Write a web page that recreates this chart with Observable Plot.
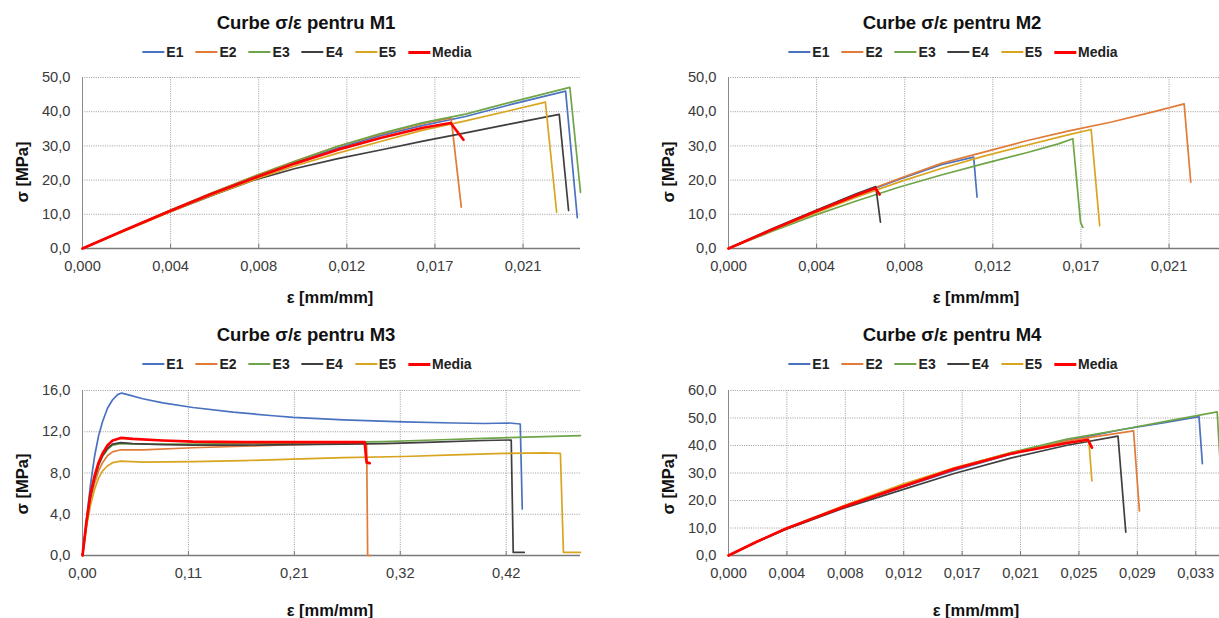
<!DOCTYPE html>
<html><head><meta charset="utf-8">
<script src="https://cdn.jsdelivr.net/npm/d3@7"></script>
<script src="https://cdn.jsdelivr.net/npm/@observablehq/plot@0.6"></script>
<style>
html,body{margin:0;padding:0;background:#fff;}
body{position:relative;width:1219px;height:618px;overflow:hidden;font-family:"Liberation Sans",Arial,sans-serif;}
.panel{position:absolute;width:600px;}
.panel svg{position:absolute;left:0;top:0;max-width:none !important;}
.ttl{position:absolute;transform:translate(-50%,-50%);font-weight:bold;font-size:18.5px;color:#111;white-space:nowrap;}
.leg{position:absolute;transform:translate(-50%,-50%);display:flex;align-items:center;white-space:nowrap;font-weight:bold;font-size:14px;color:#222;}
.leg .it{display:flex;align-items:center;margin-right:12px;}
.leg .it:last-child{margin-right:0;}
.leg .sw{display:inline-block;width:22px;margin-right:2px;}
.xl{position:absolute;transform:translate(-50%,-50%);font-weight:bold;font-size:16.5px;color:#111;white-space:nowrap;}
.yl{position:absolute;transform:translate(-50%,-50%) rotate(-90deg);font-weight:bold;font-size:16.5px;color:#111;white-space:nowrap;}
</style></head>
<body>
<script>
// ---------- series & colours ----------
const SERIES = ["E1","E2","E3","E4","E5","Media"];
const COLORS = ["#4A72C0","#E07B39","#6FA548","#3F3F3F","#D9A521","#FF0000"];
const TITLES = ["Curbe σ/ε pentru M1","Curbe σ/ε pentru M2","Curbe σ/ε pentru M3","Curbe σ/ε pentru M4"];
const X_LABEL = "ε [mm/mm]";
const Y_LABEL = "σ [MPa]";

// ---------- tick values & labels ----------
const xTicksA = [0, 0.00414, 0.00828, 0.01242, 0.01656, 0.0207];
const xLabelsA = ["0,000","0,004","0,008","0,012","0,017","0,021"];
const xTicksM3 = [0, 0.1055, 0.211, 0.3165, 0.422];
const xLabelsM3 = ["0,00","0,11","0,21","0,32","0,42"];
const xTicksM4 = [0, 0.00414, 0.00828, 0.01242, 0.01656, 0.0207, 0.02484, 0.02898, 0.03312];
const xLabelsM4 = ["0,000","0,004","0,008","0,012","0,017","0,021","0,025","0,029","0,033"];
const yTicks50 = [0, 10, 20, 30, 40, 50];
const yLabels50 = ["0,0","10,0","20,0","30,0","40,0","50,0"];
const yTicks16 = [0, 4, 8, 12, 16];
const yLabels16 = ["0,0","4,0","8,0","12,0","16,0"];
const yTicks60 = [0, 10, 20, 30, 40, 50, 60];
const yLabels60 = ["0,0","10,0","20,0","30,0","40,0","50,0","60,0"];

// ---------- M1 data [strain, stress] ----------
const M1_E1 = [[0,0],[0.002,5.4],[0.004,10.7],[0.006,15.9],[0.008,20.7],[0.010,25.2],[0.012,29.4],[0.014,33.0],[0.016,36.0],[0.018,38.6],[0.020,41.9],[0.0227,46.0],[0.02325,9.0]];
const M1_E2 = [[0,0],[0.002,5.5],[0.004,10.9],[0.006,16.1],[0.008,21.0],[0.010,25.6],[0.012,29.9],[0.014,33.4],[0.016,36.6],[0.01732,38.2],[0.0178,12.1]];
const M1_E3 = [[0,0],[0.002,5.4],[0.004,10.8],[0.006,16.0],[0.008,20.9],[0.010,25.5],[0.012,29.9],[0.014,33.6],[0.016,36.8],[0.018,39.3],[0.020,42.6],[0.0229,47.1],[0.0234,16.4]];
const M1_E4 = [[0,0],[0.002,5.3],[0.004,10.5],[0.006,15.3],[0.008,19.9],[0.010,23.4],[0.012,26.3],[0.014,28.8],[0.016,31.4],[0.018,33.8],[0.020,36.3],[0.0224,39.2],[0.02284,11.1]];
const M1_E5 = [[0,0],[0.002,5.2],[0.004,10.4],[0.006,15.4],[0.008,20.0],[0.010,24.2],[0.012,27.9],[0.014,31.3],[0.016,34.6],[0.018,37.3],[0.020,40.2],[0.02175,42.8],[0.02228,10.6]];
const M1_Media = [[0,0],[0.002,5.4],[0.004,10.7],[0.006,15.8],[0.008,20.5],[0.010,24.9],[0.012,28.9],[0.014,32.3],[0.016,35.3],[0.0173,36.7],[0.0179,31.8]];

// ---------- M2 data ----------
const M2_E1 = [[0,0],[0.002,5.4],[0.004,10.5],[0.006,15.5],[0.008,20.2],[0.010,24.5],[0.01152,26.7],[0.01168,15.0]];
const M2_E2 = [[0,0],[0.002,5.4],[0.004,10.6],[0.006,15.7],[0.008,20.4],[0.010,24.9],[0.012,28.2],[0.014,31.5],[0.016,34.4],[0.018,37.0],[0.020,40.0],[0.02141,42.3],[0.02172,19.4]];
const M2_E3 = [[0,0],[0.002,4.9],[0.004,9.6],[0.006,13.9],[0.008,17.9],[0.010,21.5],[0.012,24.8],[0.014,28.0],[0.0155,30.6],[0.01618,32.1],[0.01654,7.7],[0.01665,6.2]];
const M2_E4 = [[0,0],[0.002,5.6],[0.004,10.9],[0.006,16.0],[0.00692,18.1],[0.00714,7.7]];
const M2_E5 = [[0,0],[0.002,5.2],[0.004,10.2],[0.006,15.0],[0.008,19.4],[0.010,23.4],[0.012,27.0],[0.014,30.2],[0.016,33.3],[0.01704,34.8],[0.01744,6.7]];
const M2_Media = [[0,0],[0.002,5.4],[0.004,10.6],[0.006,15.6],[0.0069,17.6],[0.0071,15.8]];

// ---------- M3 data ----------
const M3_E1 = [[0,0],[0.004,3.5],[0.008,6.9],[0.012,9.6],[0.016,11.6],[0.020,13.0],[0.025,14.3],[0.030,15.1],[0.035,15.6],[0.039,15.75],[0.045,15.6],[0.06,15.2],[0.08,14.8],[0.11,14.35],[0.15,13.9],[0.19,13.55],[0.21,13.4],[0.26,13.15],[0.32,12.95],[0.37,12.85],[0.40,12.8],[0.425,12.85],[0.436,12.75],[0.438,4.5]];
const M3_E2 = [[0,0],[0.004,3.0],[0.008,5.4],[0.012,7.0],[0.016,8.2],[0.020,9.0],[0.025,9.7],[0.030,10.05],[0.038,10.25],[0.06,10.25],[0.11,10.45],[0.16,10.6],[0.21,10.75],[0.26,10.85],[0.283,10.9],[0.284,0.0],[0.287,0.0]];
const M3_E3 = [[0,0],[0.004,3.1],[0.008,5.7],[0.012,7.4],[0.016,8.7],[0.020,9.6],[0.025,10.3],[0.030,10.7],[0.038,10.85],[0.06,10.8],[0.11,10.8],[0.16,10.85],[0.21,10.9],[0.26,11.0],[0.30,11.05],[0.35,11.2],[0.40,11.35],[0.45,11.5],[0.496,11.62]];
const M3_E4 = [[0,0],[0.004,3.2],[0.008,5.8],[0.012,7.5],[0.016,8.8],[0.020,9.7],[0.025,10.4],[0.030,10.8],[0.038,10.95],[0.05,10.85],[0.08,10.75],[0.11,10.7],[0.16,10.7],[0.21,10.75],[0.26,10.8],[0.30,10.85],[0.35,11.0],[0.40,11.15],[0.427,11.2],[0.429,0.3],[0.44,0.3]];
const M3_E5 = [[0,0],[0.004,2.8],[0.008,4.9],[0.012,6.4],[0.016,7.5],[0.020,8.2],[0.025,8.7],[0.030,9.0],[0.038,9.15],[0.06,9.05],[0.11,9.1],[0.16,9.2],[0.21,9.35],[0.26,9.5],[0.32,9.6],[0.37,9.75],[0.42,9.9],[0.46,9.95],[0.476,9.9],[0.479,0.3],[0.496,0.3]];
const M3_Media = [[0,0],[0.004,3.3],[0.008,6.0],[0.012,7.7],[0.016,9.0],[0.020,9.9],[0.025,10.7],[0.030,11.15],[0.038,11.4],[0.05,11.3],[0.08,11.15],[0.11,11.05],[0.16,11.0],[0.21,11.0],[0.26,11.0],[0.281,11.0],[0.283,9.0],[0.286,8.95]];

// ---------- M4 data ----------
const M4_E1 = [[0,0],[0.002,5.0],[0.004,9.5],[0.008,17.3],[0.012,24.3],[0.016,30.9],[0.020,36.8],[0.024,41.8],[0.028,45.9],[0.031,48.4],[0.03335,50.5],[0.03359,33.4]];
const M4_E2 = [[0,0],[0.002,5.0],[0.004,9.5],[0.008,17.6],[0.012,24.9],[0.016,31.6],[0.020,37.1],[0.024,41.7],[0.02871,45.3],[0.02913,16.2]];
const M4_E3 = [[0,0],[0.002,5.0],[0.004,9.5],[0.008,17.5],[0.012,24.8],[0.016,31.6],[0.020,37.4],[0.024,42.3],[0.028,45.9],[0.031,48.8],[0.03464,52.2],[0.03498,22.0]];
const M4_E4 = [[0,0],[0.002,4.9],[0.004,9.4],[0.008,16.9],[0.012,23.4],[0.016,29.8],[0.020,35.4],[0.024,40.1],[0.02761,43.4],[0.02816,8.5]];
const M4_E5 = [[0,0],[0.002,5.0],[0.004,9.6],[0.008,17.8],[0.012,25.3],[0.016,31.9],[0.020,37.3],[0.024,41.0],[0.02554,41.9],[0.02576,27.1]];
const M4_Media = [[0,0],[0.002,5.0],[0.004,9.6],[0.008,17.4],[0.012,24.5],[0.016,31.5],[0.020,37.0],[0.024,40.9],[0.02547,42.1],[0.02576,39.2]];

// ---------- layout ----------
const panels = [
  {title: TITLES[0], left: 0,   top: 0,   h: 310, mt: 77, mb: 62, ttlY: 23, legY: 52, xlY: 297, ylY: 172,
   xmax: 0.0234, ymax: 50, xTicks: xTicksA, xLabels: xLabelsA, yTicks: yTicks50, yLabels: yLabels50,
   data: [M1_E1, M1_E2, M1_E3, M1_E4, M1_E5, M1_Media]},
  {title: TITLES[1], left: 646, top: 0,   h: 310, mt: 77, mb: 62, ttlY: 23, legY: 52, xlY: 297, ylY: 172,
   xmax: 0.0234, ymax: 50, xTicks: xTicksA, xLabels: xLabelsA, yTicks: yTicks50, yLabels: yLabels50,
   data: [M2_E1, M2_E2, M2_E3, M2_E4, M2_E5, M2_Media]},
  {title: TITLES[2], left: 0,   top: 310, h: 308, mt: 80, mb: 63, ttlY: 25, legY: 54, xlY: 300, ylY: 174,
   xmax: 0.496, ymax: 16, xTicks: xTicksM3, xLabels: xLabelsM3, yTicks: yTicks16, yLabels: yLabels16,
   data: [M3_E1, M3_E2, M3_E3, M3_E4, M3_E5, M3_Media]},
  {title: TITLES[3], left: 646, top: 310, h: 308, mt: 80, mb: 63, ttlY: 25, legY: 54, xlY: 300, ylY: 174,
   xmax: 0.0353, ymax: 60, xTicks: xTicksM4, xLabels: xLabelsM4, yTicks: yTicks60, yLabels: yLabels60,
   data: [M4_E1, M4_E2, M4_E3, M4_E4, M4_E5, M4_Media]}
];

function makePanel(p) {
  const div = document.createElement("div");
  div.className = "panel";
  div.style.left = p.left + "px";
  div.style.top = p.top + "px";
  div.style.height = p.h + "px";

  const rows = [];
  SERIES.forEach((s, i) => p.data[i].forEach(([e, v]) => rows.push({eps: e, sig: v, series: s})));
  const xMap = new Map(p.xTicks.map((t, i) => [t, p.xLabels[i]]));
  const yMap = new Map(p.yTicks.map((t, i) => [t, p.yLabels[i]]));
  const grid = {stroke: "#9c9c9c", strokeOpacity: 1, strokeWidth: 1, strokeDasharray: "1,1.3"};

  const svg = Plot.plot({
    width: 600, height: p.h,
    marginLeft: 82, marginRight: 20, marginTop: p.mt, marginBottom: p.mb,
    x: {domain: [0, p.xmax]},
    y: {domain: [0, p.ymax]},
    color: {domain: SERIES, range: COLORS},
    style: {fontFamily: '"Liberation Sans", Arial, sans-serif', fontSize: "14.7px", color: "#3a3a3a", background: "transparent", overflow: "visible"},
    marks: [
      Plot.gridY(p.yTicks.slice(1), grid),
      Plot.gridX(p.xTicks.slice(1), grid),
      Plot.ruleX([0], {stroke: "#8a8a8a", strokeWidth: 1}),
      Plot.ruleY([0], {stroke: "#7a7a7a", strokeWidth: 1.3}),
      Plot.ruleX(p.xTicks.slice(1), {x: d => d, y1: () => 0, y2: () => p.ymax * 0.025, stroke: "#7a7a7a", strokeWidth: 1}),
      Plot.axisY(p.yTicks, {tickSize: 0, tickPadding: 12, tickFormat: d => yMap.get(d), label: null}),
      Plot.axisX(p.xTicks, {tickSize: 0, tickPadding: 12, tickFormat: d => xMap.get(d), label: null}),
      Plot.line(rows.filter(r => r.series !== "Media"), {x: "eps", y: "sig", z: "series", stroke: "series", strokeWidth: 1.7}),
      Plot.line(rows.filter(r => r.series === "Media"), {x: "eps", y: "sig", z: "series", stroke: "series", strokeWidth: 2.7})
    ]
  });
  div.appendChild(svg);

  const t = document.createElement("div");
  t.className = "ttl"; t.textContent = p.title;
  t.style.left = "306px"; t.style.top = p.ttlY + "px";
  div.appendChild(t);

  const leg = document.createElement("div");
  leg.className = "leg";
  leg.style.left = "307px"; leg.style.top = p.legY + "px";
  SERIES.forEach((s, i) => {
    const it = document.createElement("span"); it.className = "it";
    const sw = document.createElement("span"); sw.className = "sw";
    sw.style.background = COLORS[i];
    sw.style.height = (s === "Media" ? 3 : 2) + "px";
    const tx = document.createElement("span"); tx.textContent = s;
    it.appendChild(sw); it.appendChild(tx); leg.appendChild(it);
  });
  div.appendChild(leg);

  const xl = document.createElement("div");
  xl.className = "xl"; xl.textContent = X_LABEL;
  xl.style.left = "330px"; xl.style.top = p.xlY + "px";
  div.appendChild(xl);

  const yl = document.createElement("div");
  yl.className = "yl"; yl.textContent = Y_LABEL;
  yl.style.left = "22px"; yl.style.top = p.ylY + "px";
  div.appendChild(yl);

  document.body.appendChild(div);
}
panels.forEach(makePanel);
</script>
</body></html>
